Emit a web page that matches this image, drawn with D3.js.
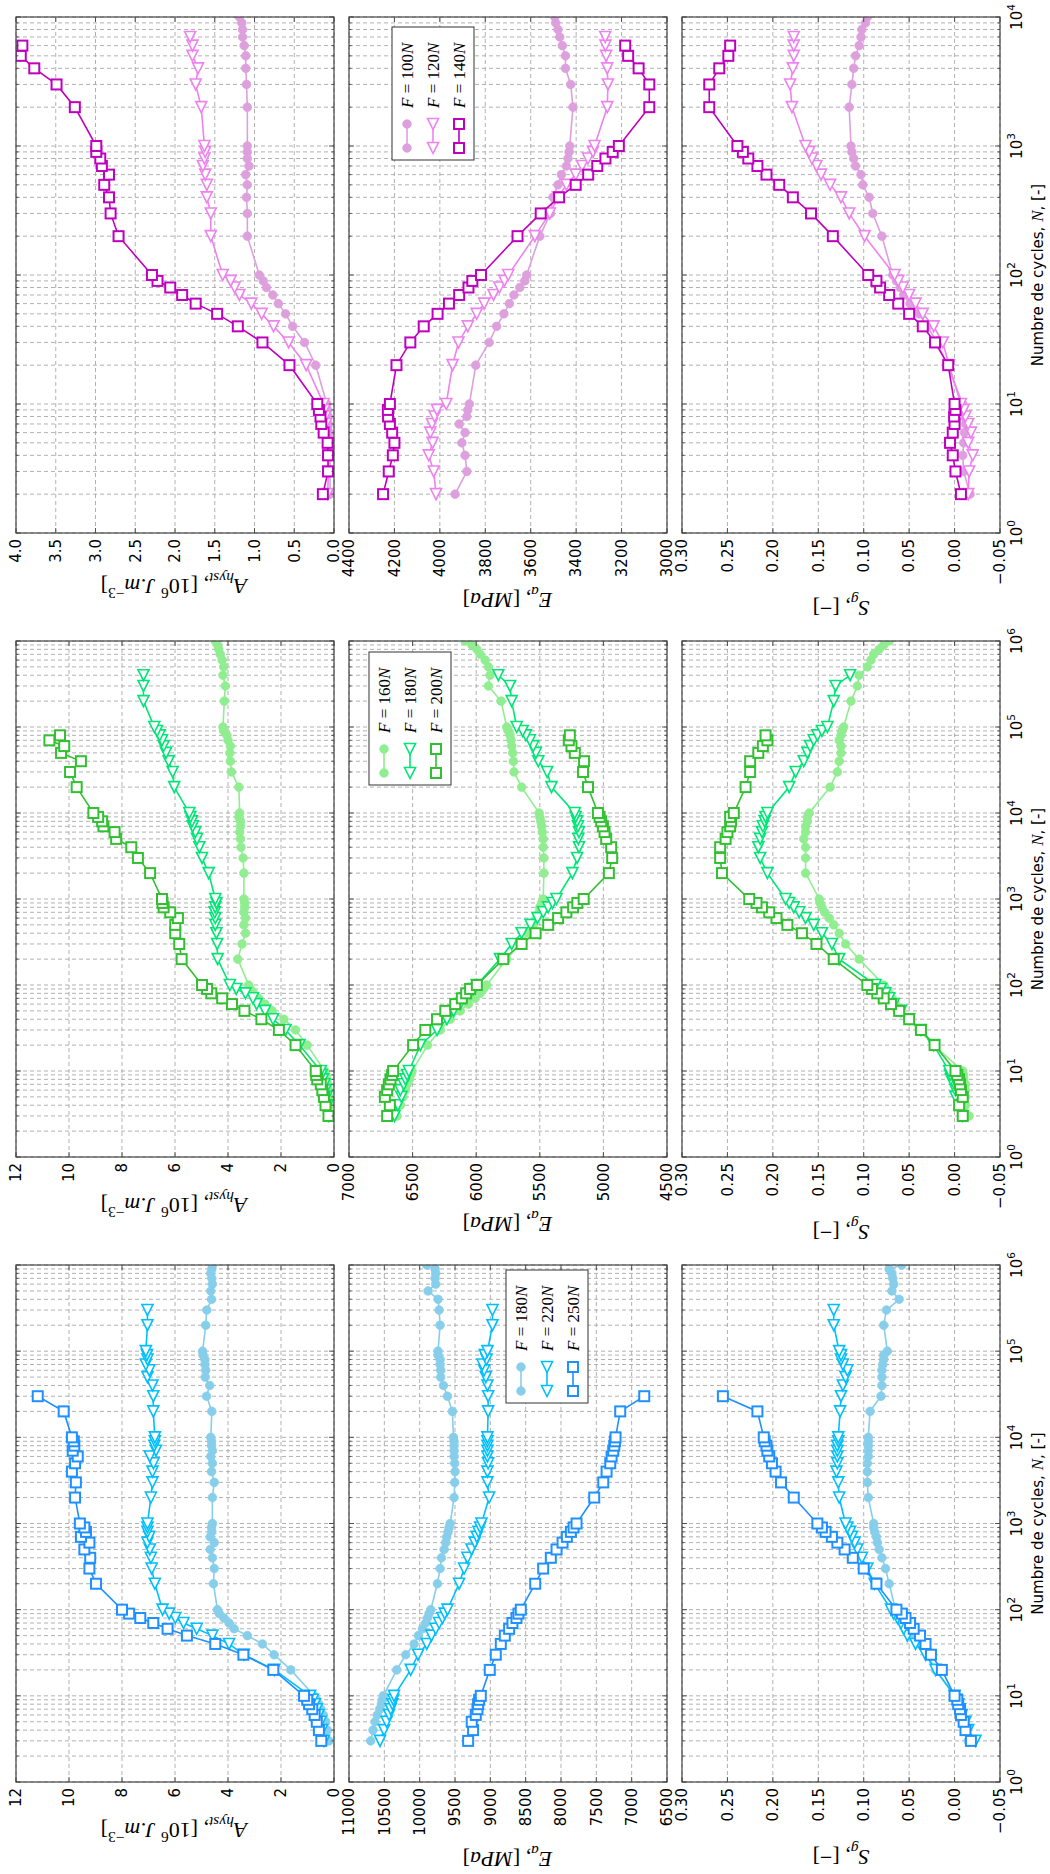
<!DOCTYPE html>
<html><head><meta charset="utf-8">
<script src="https://cdn.jsdelivr.net/npm/d3@7"></script>
<style>html,body{margin:0;padding:0;background:#fff}svg{display:block}</style>
</head><body>
<script>
// ================= DATA =================
// x ticks (decades)
const xMajor4 = [1,10,100,1000,10000];
const xMajor6 = [1,10,100,1000,10000,100000,1000000];
// y ticks
const ticksA_m = [0,0.5,1,1.5,2,2.5,3,3.5,4];
const ticksA_gb = [0,2,4,6,8,10,12];
const ticksE_m = [3000,3200,3400,3600,3800,4000,4200,4400];
const ticksE_g = [4500,5000,5500,6000,6500,7000];
const ticksE_b = [6500,7000,7500,8000,8500,9000,9500,10000,10500,11000];
const ticksS = [-0.05,0,0.05,0.10,0.15,0.20,0.25,0.30];

// ---- magenta group: F = 100, 120, 140 N ----
const N_m100 = [2,3,4,5,6,7,8,9,10,20,30,40,50,60,70,80,90,100,200,300,400,500,600,700,800,900,1000,2000,3000,4000,5000,6000,7000,8000,9000,10000];
const N_m120 = [2,3,4,5,6,7,8,9,10,20,30,40,50,60,70,80,90,100,200,300,400,500,600,700,800,900,1000,2000,3000,4000,5000,6000,7000];
const N_m140 = [2,3,4,5,6,7,8,9,10,20,30,40,50,60,70,80,90,100,200,300,400,500,600,700,800,900,1000,2000,3000,4000,5000,6000];
const A_m100 = [0.05,0.05,0.05,0.06,0.06,0.07,0.07,0.08,0.09,0.23,0.37,0.52,0.61,0.70,0.77,0.85,0.89,0.94,1.09,1.09,1.10,1.09,1.11,1.07,1.09,1.09,1.09,1.09,1.10,1.11,1.11,1.13,1.15,1.15,1.16,1.19];
const A_m120 = [0.08,0.07,0.07,0.08,0.10,0.10,0.11,0.12,0.13,0.35,0.57,0.76,0.91,1.04,1.19,1.25,1.30,1.40,1.55,1.55,1.60,1.60,1.62,1.65,1.63,1.62,1.63,1.67,1.74,1.71,1.78,1.78,1.81];
const A_m140 = [0.14,0.075,0.075,0.08,0.13,0.16,0.17,0.19,0.21,0.56,0.90,1.21,1.47,1.74,1.91,2.06,2.22,2.29,2.71,2.81,2.83,2.89,2.83,2.92,2.94,2.99,2.99,3.26,3.49,3.77,3.94,3.92];
const E_m100 = [3933,3881,3889,3903,3889,3915,3881,3877,3870,3842,3783,3750,3718,3694,3674,3648,3626,3618,3560,3513,3502,3480,3465,3443,3436,3431,3428,3414,3424,3447,3447,3461,3472,3480,3490,3494];
const E_m120 = [4017,4027,4049,4032,4042,4035,4023,4013,3972,3944,3918,3877,3838,3805,3764,3738,3716,3699,3582,3516,3480,3443,3402,3374,3348,3326,3319,3263,3260,3263,3268,3271,3272];
const E_m140 = [4250,4225,4207,4200,4210,4220,4228,4229,4220,4191,4130,4071,4010,3960,3915,3874,3857,3819,3658,3556,3475,3402,3347,3307,3271,3239,3212,3078,3078,3125,3171,3184];
const S_m100 = [-0.017,-0.010,-0.009,-0.010,-0.011,-0.012,-0.010,-0.009,-0.009,0.008,0.019,0.030,0.039,0.049,0.056,0.060,0.064,0.068,0.080,0.090,0.094,0.101,0.103,0.109,0.111,0.113,0.114,0.116,0.113,0.111,0.109,0.105,0.103,0.102,0.098,0.096];
const S_m120 = [-0.015,-0.016,-0.020,-0.015,-0.018,-0.015,-0.012,-0.010,-0.007,0.006,0.013,0.023,0.035,0.043,0.050,0.057,0.062,0.066,0.099,0.116,0.125,0.137,0.147,0.152,0.157,0.160,0.164,0.179,0.181,0.178,0.177,0.177,0.177];
const S_m140 = [-0.007,-0.001,0.002,0.005,0.002,0.000,0.0005,-0.001,0.000,0.007,0.0215,0.035,0.050,0.062,0.072,0.082,0.086,0.095,0.134,0.158,0.178,0.193,0.207,0.217,0.227,0.233,0.239,0.270,0.270,0.259,0.249,0.247];

// ---- green group: F = 160, 180, 200 N ----
const N_g160 = [3,4,5,6,7,8,9,10,20,30,40,50,60,70,80,90,100,200,300,400,500,600,700,800,900,1000,2000,3000,4000,5000,6000,7000,8000,9000,10000,20000,30000,40000,50000,60000,70000,80000,90000,100000,200000,300000,400000,500000,600000,700000,800000,900000,1000000];
const N_g180 = [3,4,5,6,7,8,9,10,20,30,40,50,60,70,80,90,100,200,300,400,500,600,700,800,900,1000,2000,3000,4000,5000,6000,7000,8000,9000,10000,20000,30000,40000,50000,60000,70000,80000,90000,100000,200000,300000,400000];
const N_g200 = [3,4,5,6,7,8,9,10,20,30,40,50,60,70,80,90,100,200,300,400,500,600,700,800,900,1000,2000,3000,4000,5000,6000,7000,8000,9000,10000,20000,30000,40000,50000,60000,70000,80000];
const A_g160 = [0.13,0.15,0.18,0.20,0.23,0.27,0.30,0.35,1.01,1.45,1.89,2.33,2.61,2.84,3.03,3.15,3.22,3.63,3.47,3.34,3.40,3.34,3.40,3.37,3.37,3.40,3.40,3.43,3.51,3.53,3.56,3.53,3.53,3.59,3.56,3.59,3.87,3.91,3.93,3.91,4.00,4.04,4.16,4.19,4.14,4.10,4.19,4.16,4.22,4.29,4.35,4.39,4.48];
const A_g180 = [0.20,0.24,0.28,0.32,0.36,0.42,0.47,0.50,1.30,1.83,2.30,2.60,2.92,3.06,3.34,3.69,3.93,4.39,4.41,4.44,4.48,4.48,4.50,4.48,4.44,4.48,4.73,4.98,5.08,5.17,5.23,5.33,5.36,5.42,5.46,6.03,6.09,6.24,6.34,6.43,6.49,6.58,6.68,6.78,7.19,7.19,7.19];
const A_g200 = [0.21,0.32,0.38,0.44,0.50,0.63,0.67,0.69,1.45,2.08,2.74,3.38,3.85,4.22,4.63,4.79,4.98,5.75,5.84,5.99,5.99,5.89,6.18,6.43,6.47,6.49,6.94,7.40,7.65,8.22,8.28,8.70,8.75,8.90,9.08,9.71,9.96,9.55,10.30,10.18,10.74,10.34];
const E_g160 = [6622,6596,6575,6556,6543,6525,6517,6504,6382,6282,6204,6126,6061,6008,5969,5943,5917,5760,5656,5591,5552,5526,5505,5500,5486,5473,5468,5468,5473,5473,5481,5486,5492,5500,5505,5643,5703,5708,5713,5721,5726,5734,5747,5760,5805,5904,5891,5904,5930,5969,5995,6034,6087];
const E_g180 = [6642,6616,6588,6596,6570,6556,6543,6530,6439,6308,6230,6178,6126,6087,6048,6021,5995,5813,5721,5643,5573,5518,5473,5434,5400,5369,5244,5207,5192,5197,5192,5200,5207,5218,5225,5408,5442,5512,5531,5552,5578,5609,5635,5682,5721,5734,5826];
const E_g200 = [6700,6679,6718,6700,6687,6674,6661,6653,6496,6400,6308,6243,6165,6113,6079,6048,5995,5787,5643,5533,5434,5356,5291,5238,5205,5155,4957,4931,4939,4978,4991,5004,5017,5030,5043,5121,5160,5152,5225,5251,5272,5264];
const S_g160 = [-0.016,-0.012,-0.012,-0.012,-0.012,-0.010,-0.010,-0.009,0.023,0.039,0.052,0.059,0.065,0.069,0.072,0.076,0.078,0.105,0.120,0.127,0.133,0.138,0.143,0.146,0.148,0.149,0.164,0.164,0.164,0.166,0.164,0.164,0.162,0.162,0.160,0.137,0.129,0.127,0.125,0.125,0.127,0.125,0.124,0.122,0.114,0.107,0.105,0.096,0.092,0.089,0.083,0.078,0.072];
const S_g180 = [-0.009,-0.007,-0.001,-0.001,0.000,0.004,0.005,0.006,0.023,0.037,0.050,0.059,0.067,0.072,0.076,0.081,0.087,0.127,0.135,0.146,0.155,0.164,0.171,0.177,0.182,0.186,0.206,0.214,0.216,0.214,0.212,0.211,0.209,0.208,0.206,0.182,0.175,0.166,0.162,0.159,0.155,0.151,0.146,0.140,0.133,0.131,0.115];
const S_g200 = [-0.009,-0.005,-0.009,-0.007,-0.006,-0.005,-0.003,-0.001,0.022,0.037,0.050,0.061,0.070,0.078,0.085,0.091,0.096,0.133,0.152,0.168,0.184,0.196,0.204,0.212,0.218,0.226,0.256,0.258,0.258,0.252,0.250,0.247,0.246,0.247,0.243,0.230,0.225,0.225,0.216,0.211,0.206,0.208];

// ---- blue group: F = 180, 220, 250 N ----
const N_b180 = [3,4,5,6,7,8,9,10,20,30,40,50,60,70,80,90,100,200,300,400,500,600,700,800,900,1000,2000,3000,4000,5000,6000,7000,8000,9000,10000,20000,30000,40000,50000,60000,70000,80000,90000,100000,200000,300000,400000,500000,600000,700000,800000,900000,1000000];
const N_b220 = [3,4,5,6,7,8,9,10,20,30,40,50,60,70,80,90,100,200,300,400,500,600,700,800,900,1000,2000,3000,4000,5000,6000,7000,8000,9000,10000,20000,30000,40000,50000,60000,70000,80000,90000,100000,200000,300000];
const N_b250 = [3,4,5,6,7,8,9,10,20,30,40,50,60,70,80,90,100,200,300,400,500,600,700,800,900,1000,2000,3000,4000,5000,6000,7000,8000,9000,10000,20000,30000];
const A_b180 = [0.19,0.25,0.31,0.40,0.50,0.57,0.65,0.75,1.63,2.26,2.70,3.27,3.77,3.96,4.15,4.33,4.40,4.55,4.52,4.59,4.67,4.52,4.67,4.61,4.62,4.59,4.59,4.52,4.62,4.59,4.65,4.59,4.62,4.62,4.65,4.61,4.81,4.69,4.86,4.84,4.87,4.87,4.94,4.96,4.84,4.80,4.62,4.65,4.59,4.61,4.65,4.61,4.59];
const A_b220 = [0.38,0.45,0.50,0.58,0.65,0.72,0.80,0.90,2.25,3.40,3.96,4.59,5.18,5.68,5.99,6.22,6.47,6.76,6.88,6.91,6.95,7.04,6.97,7.04,7.04,7.04,6.91,6.85,6.85,6.81,6.95,6.72,6.78,6.76,6.76,6.82,6.82,6.85,7.04,6.97,7.10,7.04,7.06,7.10,7.04,7.04];
const A_b250 = [0.48,0.57,0.65,0.73,0.82,0.94,1.01,1.13,2.29,3.42,4.48,5.55,6.28,6.82,7.31,7.73,8.00,8.98,9.23,9.20,9.42,9.23,9.55,9.36,9.42,9.59,9.77,9.74,9.89,9.77,9.67,9.86,9.80,9.82,9.89,10.20,11.18];
const E_b180 = [10693,10660,10632,10599,10566,10542,10528,10514,10325,10197,10079,10018,9961,9914,9890,9867,9843,9749,9711,9692,9654,9631,9617,9598,9584,9569,9513,9504,9499,9504,9513,9513,9513,9513,9522,9537,9607,9664,9702,9702,9711,9711,9740,9740,9711,9725,9740,9881,9773,9782,9773,9782,9900];
const E_b220 = [10561,10504,10467,10433,10410,10386,10372,10363,10127,10023,9900,9834,9773,9725,9678,9645,9607,9442,9371,9324,9267,9220,9192,9168,9144,9126,9017,9041,9041,9031,9041,9041,9041,9041,9041,9031,9031,9041,9064,9088,9112,9055,9078,9041,8970,8970];
const E_b250 = [9314,9244,9263,9206,9182,9173,9159,9135,9008,8923,8852,8795,8734,8687,8630,8602,8569,8365,8252,8144,8063,7978,7917,7860,7822,7780,7530,7402,7355,7303,7284,7261,7246,7237,7228,7162,6822];
const S_b180 = [-0.015,-0.012,-0.010,-0.008,-0.006,-0.004,-0.003,-0.001,0.021,0.030,0.038,0.045,0.050,0.055,0.058,0.061,0.065,0.072,0.076,0.080,0.083,0.085,0.086,0.088,0.089,0.089,0.095,0.096,0.096,0.096,0.095,0.095,0.095,0.095,0.095,0.093,0.081,0.080,0.080,0.080,0.079,0.078,0.078,0.074,0.078,0.075,0.061,0.069,0.067,0.068,0.069,0.072,0.058];
const S_b220 = [-0.023,-0.015,-0.012,-0.008,-0.006,-0.004,-0.002,0.000,0.021,0.032,0.043,0.052,0.056,0.059,0.063,0.067,0.070,0.088,0.096,0.102,0.107,0.110,0.113,0.115,0.118,0.120,0.127,0.128,0.130,0.129,0.129,0.129,0.129,0.128,0.128,0.126,0.125,0.123,0.120,0.118,0.123,0.125,0.125,0.127,0.133,0.133];
const S_b250 = [-0.018,-0.012,-0.010,-0.007,-0.006,-0.004,-0.003,0.000,0.014,0.026,0.032,0.038,0.045,0.049,0.054,0.058,0.064,0.086,0.100,0.112,0.121,0.129,0.135,0.142,0.146,0.151,0.177,0.191,0.197,0.201,0.204,0.206,0.207,0.209,0.210,0.217,0.255];

// ================= CHART =================
const FW = 1874, FH = 1050;            // unrotated figure size
const svg = d3.select("body").append("svg").attr("width", 1050).attr("height", 1874);
svg.append("rect").attr("width", 1050).attr("height", 1874).attr("fill", "#fff");
const fig = svg.append("g").attr("transform", `translate(0,${FW}) rotate(-90)`);

const TICK_FONT = "DejaVu Sans";
const SERIF = "Liberation Serif";
const fmt1 = d3.format(".1f"), fmtI = d3.format("d");
const fmtS = v => d3.format(".2f")(v).replace("-", "\u2212");

const rows = [
  {key: "A", y0: 16, y1: 334},
  {key: "E", y0: 349, y1: 667},
  {key: "S", y0: 682, y1: 1000}
];

const groups = [
  {x0: 92, x1: 609, xTicks: xMajor6,
   yDom: {A: [0, 12], E: [6500, 11000], S: [-0.05, 0.30]},
   yTicks: {A: ticksA_gb, E: ticksE_b, S: ticksS}, yFmt: {A: fmtI, E: fmtI, S: fmtS},
   legend: {right: 5, top: 157},
   series: [
     {lab: "180", color: "#87ceeb", mk: "o", N: N_b180, A: A_b180, E: E_b180, S: S_b180},
     {lab: "220", color: "#00bfff", mk: "v", N: N_b220, A: A_b220, E: E_b220, S: S_b220},
     {lab: "250", color: "#1e90ff", mk: "s", N: N_b250, A: A_b250, E: E_b250, S: S_b250}]},
  {x0: 717, x1: 1233, xTicks: xMajor6,
   yDom: {A: [0, 12], E: [4500, 7000], S: [-0.05, 0.30]},
   yTicks: {A: ticksA_gb, E: ticksE_g, S: ticksS}, yFmt: {A: fmtI, E: fmtI, S: fmtS},
   legend: {right: 11, top: 20},
   series: [
     {lab: "160", color: "#90ee90", mk: "o", N: N_g160, A: A_g160, E: E_g160, S: S_g160},
     {lab: "180", color: "#00e676", mk: "v", N: N_g180, A: A_g180, E: E_g180, S: S_g180},
     {lab: "200", color: "#32c032", mk: "s", N: N_g200, A: A_g200, E: E_g200, S: S_g200}]},
  {x0: 1341, x1: 1857, xTicks: xMajor4,
   yDom: {A: [0, 4], E: [3000, 4400], S: [-0.05, 0.30]},
   yTicks: {A: ticksA_m, E: ticksE_m, S: ticksS}, yFmt: {A: fmt1, E: fmtI, S: fmtS},
   legend: {right: 10, top: 43},
   series: [
     {lab: "100", color: "#dda0dd", mk: "o", N: N_m100, A: A_m100, E: E_m100, S: S_m100},
     {lab: "120", color: "#ee82ee", mk: "v", N: N_m120, A: A_m120, E: E_m120, S: S_m120},
     {lab: "140", color: "#bf00bf", mk: "s", N: N_m140, A: A_m140, E: E_m140, S: S_m140}]}
];

function drawMarker(g, s, cx, cy) {
  if (s.mk === "o") {
    g.append("circle").attr("cx", cx).attr("cy", cy).attr("r", 4.3)
      .attr("fill", s.color).attr("stroke", s.color).attr("stroke-width", 0.8);
  } else if (s.mk === "s") {
    g.append("rect").attr("x", cx - 5).attr("y", cy - 5).attr("width", 10).attr("height", 10)
      .attr("fill", "#fff").attr("stroke", s.color).attr("stroke-width", 2);
  } else {
    g.append("path").attr("d", `M${cx - 5.5},${cy}L${cx + 5.5},${cy - 5.5}L${cx + 5.5},${cy + 5.5}Z`)
      .attr("fill", "#fff").attr("stroke", s.color).attr("stroke-width", 1.6);
  }
}

// rich label pieces
function addRich(text, parts, size) {
  let shift = 0;
  parts.forEach(p => {
    const t = text.append("tspan").text(p.t);
    let target = 0;
    if (p.sub) target = size * 0.28;
    if (p.sup) target = -size * 0.42;
    if (target !== shift) { t.attr("dy", target - shift); shift = target; }
    if (p.sub || p.sup) t.attr("font-size", size * 0.7);
    if (p.it) t.attr("font-style", "italic");
    if (p.f) t.attr("font-family", p.f);
  });
}

const yLabels = {
  A: [{t: "A", it: 1}, {t: "hyst", it: 1, sub: 1}, {t: ", [10"}, {t: "6", sup: 1}, {t: " "}, {t: "J.m", it: 1}, {t: "\u22123", sup: 1}, {t: "]"}],
  E: [{t: "E", it: 1}, {t: "a", it: 1, sub: 1}, {t: ", ["}, {t: "MPa", it: 1}, {t: "]"}],
  S: [{t: "S", it: 1}, {t: "g", it: 1, sub: 1}, {t: ", [\u2212]"}]
};

let clipN = 0;
groups.forEach(gr => {
  const xMax = gr.xTicks[gr.xTicks.length - 1];
  const x = d3.scaleLog().domain([1, xMax]).range([gr.x0, gr.x1]);
  const minors = [];
  for (let i = 0; i < gr.xTicks.length - 1; i++)
    for (let m = 2; m <= 9; m++) minors.push(gr.xTicks[i] * m);

  rows.forEach((row, ri) => {
    const y = d3.scaleLinear().domain(gr.yDom[row.key]).range([row.y1, row.y0]);
    const p = fig.append("g");

    // grid
    const grid = p.append("g").attr("stroke", "#a8a8a8").attr("stroke-width", 0.9)
      .attr("stroke-dasharray", "4,3");
    gr.xTicks.concat(minors).forEach(v => grid.append("line")
      .attr("x1", x(v)).attr("x2", x(v)).attr("y1", row.y0).attr("y2", row.y1));
    gr.yTicks[row.key].forEach(v => grid.append("line")
      .attr("x1", gr.x0).attr("x2", gr.x1).attr("y1", y(v)).attr("y2", y(v)));

    // data
    const id = "clp" + (clipN++);
    p.append("clipPath").attr("id", id).append("rect")
      .attr("x", gr.x0).attr("y", row.y0).attr("width", gr.x1 - gr.x0).attr("height", row.y1 - row.y0);
    const plot = p.append("g").attr("clip-path", `url(#${id})`);
    const line = d3.line().x(d => x(d[0])).y(d => y(d[1]));
    gr.series.forEach(s => {
      const pts = s.N.map((n, i) => [n, s[row.key][i]]);
      plot.append("path").datum(pts).attr("d", line).attr("fill", "none")
        .attr("stroke", s.color).attr("stroke-width", 1.6);
      pts.forEach(d => drawMarker(plot, s, x(d[0]), y(d[1])));
    });

    // frame
    p.append("rect").attr("x", gr.x0).attr("y", row.y0).attr("width", gr.x1 - gr.x0)
      .attr("height", row.y1 - row.y0).attr("fill", "none").attr("stroke", "#444").attr("stroke-width", 1.2);

    // inward ticks
    const tk = p.append("g").attr("stroke", "#444").attr("stroke-width", 0.9);
    gr.xTicks.forEach(v => {
      tk.append("line").attr("x1", x(v)).attr("x2", x(v)).attr("y1", row.y1).attr("y2", row.y1 - 5);
      tk.append("line").attr("x1", x(v)).attr("x2", x(v)).attr("y1", row.y0).attr("y2", row.y0 + 5);
    });
    minors.forEach(v => {
      tk.append("line").attr("x1", x(v)).attr("x2", x(v)).attr("y1", row.y1).attr("y2", row.y1 - 2.5);
      tk.append("line").attr("x1", x(v)).attr("x2", x(v)).attr("y1", row.y0).attr("y2", row.y0 + 2.5);
    });
    gr.yTicks[row.key].forEach(v => {
      tk.append("line").attr("x1", gr.x0).attr("x2", gr.x0 + 5).attr("y1", y(v)).attr("y2", y(v));
      tk.append("line").attr("x1", gr.x1).attr("x2", gr.x1 - 5).attr("y1", y(v)).attr("y2", y(v));
    });

    // y tick labels via d3 axis
    const ax = p.append("g").attr("transform", `translate(${gr.x0},0)`)
      .call(d3.axisLeft(y).tickValues(gr.yTicks[row.key]).tickFormat(gr.yFmt[row.key])
        .tickSize(0).tickPadding(6));
    ax.select(".domain").remove();
    ax.selectAll("text").attr("font-family", TICK_FONT).attr("font-size", 15).attr("fill", "#000");
    let maxW = 0;
    ax.selectAll("text").each(function () { maxW = Math.max(maxW, this.getComputedTextLength()); });

    // y label
    const lg = p.append("g");
    const lt = lg.append("text").attr("transform", "rotate(-90)").attr("text-anchor", "middle")
      .attr("font-family", SERIF).attr("font-size", 22).attr("fill", "#000");
    addRich(lt, yLabels[row.key], 22);
    const bb = lg.node().getBBox();
    const right = gr.x0 - 6 - maxW - 7;
    const cy = (row.y0 + row.y1) / 2;
    lg.attr("transform", `translate(${right - (bb.x + bb.width)},${cy - (bb.y + bb.height / 2)})`);

    // x tick labels + x label on bottom row
    if (ri === rows.length - 1) {
      gr.xTicks.forEach((v, k) => {
        const t = p.append("text").attr("x", x(v)).attr("y", row.y1 + 22)
          .attr("text-anchor", "middle").attr("font-family", TICK_FONT).attr("font-size", 15);
        t.append("tspan").text("10");
        t.append("tspan").attr("dy", -7).attr("font-size", 10.5).text(String(Math.round(Math.log10(v))));
      });
      const xl = p.append("text").attr("x", (gr.x0 + gr.x1) / 2).attr("y", row.y1 + 43)
        .attr("text-anchor", "middle").attr("font-family", TICK_FONT).attr("font-size", 15);
      xl.append("tspan").text("Numbre de cycles, ");
      xl.append("tspan").attr("font-family", SERIF).attr("font-style", "italic").attr("font-size", 17).text("N");
      xl.append("tspan").text(", [-]");
    }

    // legend in E row
    if (row.key === "E") {
      const LW = 133, LH = 82;
      const bx = gr.x1 - gr.legend.right - LW, by = row.y0 + gr.legend.top;
      const L = p.append("g");
      L.append("rect").attr("x", bx).attr("y", by).attr("width", LW).attr("height", LH)
        .attr("fill", "#fff").attr("stroke", "#333").attr("stroke-width", 1);
      gr.series.forEach((s, i) => {
        const yy = by + 15 + i * 26;
        L.append("line").attr("x1", bx + 12).attr("x2", bx + 36).attr("y1", yy).attr("y2", yy)
          .attr("stroke", s.color).attr("stroke-width", 1.6);
        drawMarker(L, s, bx + 12, yy);
        drawMarker(L, s, bx + 36, yy);
        const t = L.append("text").attr("x", bx + 52).attr("y", yy + 6)
          .attr("font-family", SERIF).attr("font-size", 17).attr("fill", "#000");
        t.append("tspan").attr("font-style", "italic").text("F");
        t.append("tspan").text(" = " + s.lab);
        t.append("tspan").attr("font-style", "italic").text("N");
      });
    }
  });
});
</script>
</body></html>
